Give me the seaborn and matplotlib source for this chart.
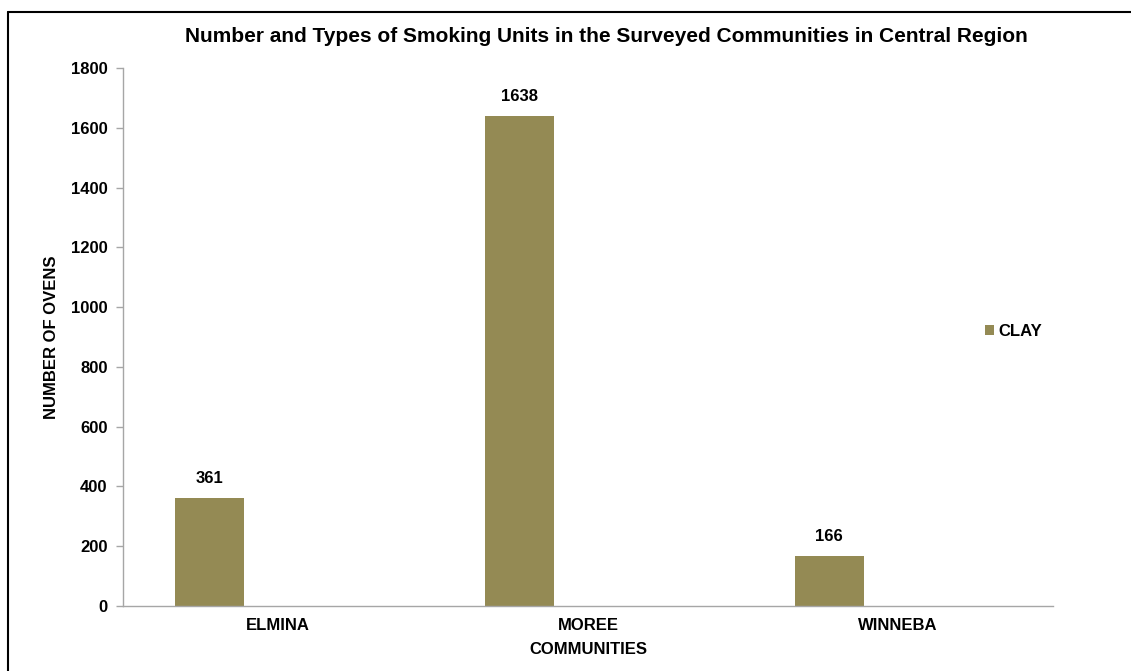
import matplotlib
matplotlib.use("Agg")
import matplotlib.pyplot as plt
import seaborn as sns
import pandas as pd
import numpy as np
from matplotlib.lines import Line2D
from matplotlib.patches import Patch

communities = ["ELMINA", "MOREE", "WINNEBA"]
clay = [361, 1638, 166]
series_name = "CLAY"
y_ticks = [0, 200, 400, 600, 800, 1000, 1200, 1400, 1600, 1800]

sns.set_theme(style="white")
plt.rcParams["font.family"] = ["Liberation Sans", "DejaVu Sans"]
plt.rcParams["font.weight"] = "bold"
plt.rcParams["text.color"] = "black"
plt.rcParams["axes.labelcolor"] = "black"
plt.rcParams["xtick.labelcolor"] = "black"
plt.rcParams["ytick.labelcolor"] = "black"

bar_color = "#948A54"
spine_color = "#A6A6A6"
fs = 12

fig = plt.figure(figsize=(11.31, 6.71), dpi=100)
ax = fig.add_axes([123/1131, 65/671, (1053-123)/1131, (606-68)/671])

df = pd.DataFrame({"community": communities, "ovens": clay})
sns.barplot(data=df, x="community", y="ovens", color=bar_color, width=0.222,
            saturation=1, ax=ax, order=communities)

# shift bars to first slot of a grouped layout
bw = 0.222
for p in ax.patches:
    p.set_x(p.get_x() - bw)
    p.set_edgecolor("none")

for p, v in zip(ax.patches, clay):
    ax.text(p.get_x() + p.get_width()/2, v + 40, f"{v}", ha="center", va="bottom",
            fontsize=fs, fontweight="bold", color="black")

ax.set_xlim(-0.5, 2.5)
ax.set_ylim(0, 1800)
ax.set_yticks(y_ticks)
ax.set_yticklabels([str(t) for t in y_ticks], fontsize=fs, fontweight="bold", color="black")
ax.set_xticks(range(len(communities)))
ax.set_xticklabels(communities, fontsize=fs, fontweight="bold", color="black")
ax.set_xticks([-0.5, 0.5, 1.5, 2.5], minor=True)
ax.tick_params(axis="x", which="major", length=0, pad=9, labelcolor="black")
ax.tick_params(axis="x", which="minor", length=5, color=spine_color, width=1, direction="out")
ax.tick_params(axis="y", which="major", length=5, color=spine_color, width=1, direction="out", pad=6,
               left=True, labelcolor="black")

for s in ["top", "right"]:
    ax.spines[s].set_visible(False)
for s in ["left", "bottom"]:
    ax.spines[s].set_color(spine_color)
    ax.spines[s].set_linewidth(1)

ax.set_xlabel("COMMUNITIES", fontsize=fs, fontweight="bold", color="black")
ax.set_ylabel("NUMBER OF OVENS", fontsize=fs, fontweight="bold", color="black")
ax.xaxis.set_label_coords(0.5, -(649-606)/538, transform=ax.transAxes)
ax.xaxis.label.set_va("center")
ax.yaxis.set_label_coords(-(123-52)/930, 0.5, transform=ax.transAxes)
ax.yaxis.label.set_va("center")

fig.text(606/1131, 1 - 37/671, "Number and Types of Smoking Units in the Surveyed Communities in Central Region",
         ha="center", va="center", fontsize=15, fontweight="bold", color="black")

handles = [Patch(facecolor=bar_color, edgecolor="none", label=series_name)]
fig.legend(handles=handles, loc="center left", bbox_to_anchor=(970/1131, 1 - 331/671),
           frameon=False, handlelength=0.55, handleheight=0.55, handletextpad=0.25,
           prop={"weight": "bold", "size": fs}, labelcolor="black")

# figure border (top and left visible)
fig.add_artist(Line2D([8/1131, 8/1131], [0, 1 - 12/671], transform=fig.transFigure, color="black", lw=1.5))
fig.add_artist(Line2D([8/1131, 1], [1 - 12/671, 1 - 12/671], transform=fig.transFigure, color="black", lw=1.5))

fig.savefig("out.png", dpi=100, facecolor="white")
